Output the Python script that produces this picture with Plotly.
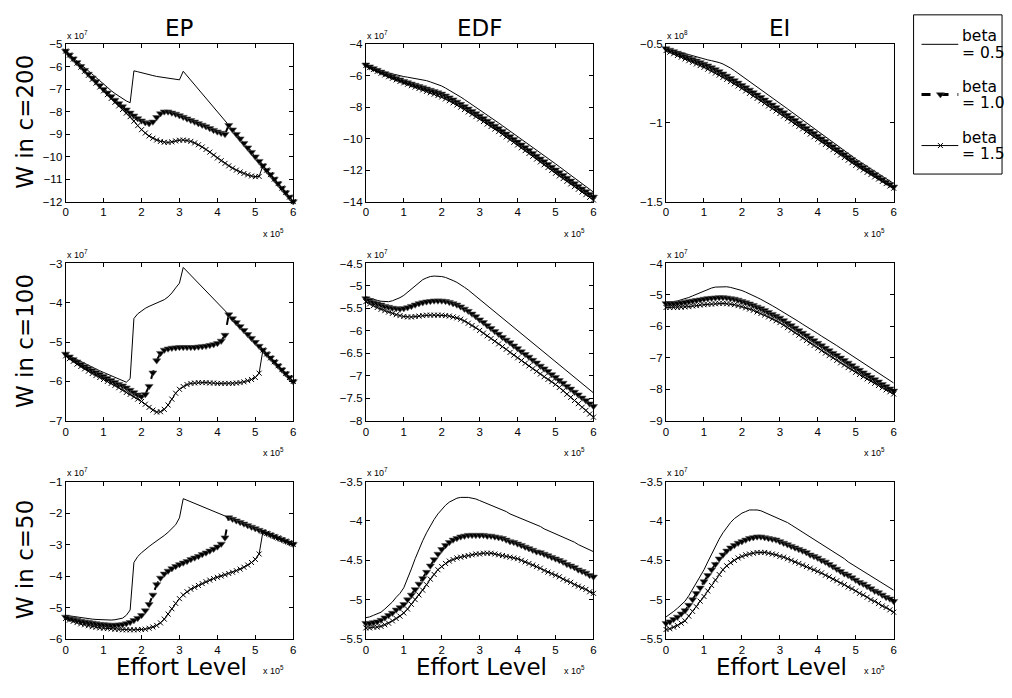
import plotly.graph_objects as go

# ---------------- data (x in units of 1e5, y in units of 1e7 / 1e8) ----------------
EFFORT = [0.0, 0.1, 0.2, 0.3, 0.4, 0.5, 0.6, 0.7, 0.8, 0.9,
          1.0, 1.1, 1.2, 1.3, 1.4, 1.5, 1.6, 1.7, 1.8, 1.9,
          2.0, 2.1, 2.2, 2.3, 2.4, 2.5, 2.6, 2.7, 2.8, 2.9,
          3.0, 3.1, 3.2, 3.3, 3.4, 3.5, 3.6, 3.7, 3.8, 3.9,
          4.0, 4.1, 4.2, 4.3, 4.4, 4.5, 4.6, 4.7, 4.8, 4.9,
          5.0, 5.1, 5.2, 5.3, 5.4, 5.5, 5.6, 5.7, 5.8, 5.9,
          6.0]

BETA_LABELS = ["= 0.5", "= 1.0", "= 1.5"]
COLUMN_TITLES = ["EP", "EDF", "EI"]
ROW_TITLES = ["W in c=200", "W in c=100", "W in c=50"]
X_TICKS = [0, 1, 2, 3, 4, 5, 6]

# ---- c = 200 ----
EP_C200_B05 = [-5.30, -5.45, -5.60, -5.75, -5.90, -6.05, -6.20, -6.35, -6.50, -6.65,
               -6.80, -6.93, -7.06, -7.19, -7.31, -7.42, -7.52, -7.60, -6.18, -6.22,
               -6.27, -6.31, -6.35, -6.39, -6.43, -6.46, -6.49, -6.52, -6.55, -6.57,
               -6.58, -6.20, -6.40, -6.60, -6.80, -7.00, -7.20, -7.40, -7.60, -7.80,
               -8.00, -8.20, -8.40, -8.60, -8.80, -9.00, -9.20, -9.40, -9.60, -9.80,
               -10.00, -10.20, -10.40, -10.60, -10.80, -11.00, -11.20, -11.40, -11.60, -11.80,
               -12.00]
EP_C200_B10 = [-5.30, -5.47, -5.64, -5.81, -5.98, -6.15, -6.32, -6.49, -6.66, -6.83,
               -7.00, -7.16, -7.32, -7.48, -7.63, -7.77, -7.91, -8.05, -8.18, -8.30,
               -8.40, -8.48, -8.52, -8.45, -8.25, -8.08, -8.00, -8.00, -8.05, -8.10,
               -8.17, -8.24, -8.31, -8.38, -8.45, -8.52, -8.59, -8.66, -8.74, -8.82,
               -8.89, -8.95, -9.00, -8.60, -8.80, -9.00, -9.20, -9.40, -9.60, -9.80,
               -10.00, -10.20, -10.40, -10.60, -10.80, -11.00, -11.20, -11.40, -11.60, -11.80,
               -12.00]
EP_C200_B15 = [-5.30, -5.48, -5.66, -5.84, -6.02, -6.20, -6.38, -6.56, -6.73, -6.90,
               -7.07, -7.24, -7.41, -7.58, -7.74, -7.90, -8.06, -8.22, -8.42, -8.62,
               -8.80, -8.95, -9.08, -9.18, -9.26, -9.32, -9.36, -9.37, -9.34, -9.30,
               -9.27, -9.26, -9.28, -9.32, -9.39, -9.47, -9.57, -9.68, -9.80, -9.93,
               -10.06, -10.18, -10.30, -10.41, -10.51, -10.60, -10.68, -10.75, -10.81, -10.86,
               -10.89, -10.88, -10.40, -10.60, -10.80, -11.00, -11.20, -11.40, -11.60, -11.80,
               -12.00]

EDF_C200_B05 = [-5.30, -5.40, -5.50, -5.59, -5.67, -5.75, -5.82, -5.89, -5.95, -6.00,
                -6.05, -6.09, -6.13, -6.17, -6.21, -6.25, -6.31, -6.39, -6.47, -6.56,
                -6.65, -6.78, -6.91, -7.05, -7.20, -7.35, -7.51, -7.67, -7.83, -7.99,
                -8.15, -8.32, -8.49, -8.66, -8.83, -9.00, -9.17, -9.34, -9.51, -9.68,
                -9.85, -10.02, -10.19, -10.36, -10.53, -10.70, -10.88, -11.06, -11.24, -11.42,
                -11.60, -11.78, -11.96, -12.14, -12.32, -12.50, -12.68, -12.86, -13.04, -13.22,
                -13.40]
EDF_C200_B10 = [-5.30, -5.42, -5.53, -5.64, -5.75, -5.85, -5.95, -6.05, -6.15, -6.25,
                -6.35, -6.43, -6.51, -6.59, -6.67, -6.75, -6.83, -6.91, -6.99, -7.07,
                -7.15, -7.27, -7.39, -7.52, -7.66, -7.80, -7.95, -8.10, -8.25, -8.40,
                -8.55, -8.71, -8.87, -9.03, -9.19, -9.35, -9.52, -9.69, -9.86, -10.03,
                -10.20, -10.38, -10.56, -10.74, -10.92, -11.10, -11.28, -11.45, -11.63, -11.80,
                -11.98, -12.15, -12.33, -12.50, -12.68, -12.85, -13.02, -13.19, -13.36, -13.53,
                -13.70]
EDF_C200_B15 = [-5.35, -5.48, -5.60, -5.72, -5.84, -5.95, -6.06, -6.16, -6.26, -6.36,
                -6.45, -6.54, -6.63, -6.72, -6.81, -6.90, -6.99, -7.08, -7.17, -7.26,
                -7.35, -7.47, -7.59, -7.72, -7.86, -8.00, -8.15, -8.30, -8.45, -8.60,
                -8.75, -8.91, -9.07, -9.23, -9.39, -9.55, -9.72, -9.89, -10.06, -10.23,
                -10.40, -10.58, -10.76, -10.94, -11.12, -11.30, -11.48, -11.66, -11.84, -12.02,
                -12.20, -12.37, -12.54, -12.71, -12.88, -13.05, -13.22, -13.39, -13.56, -13.73,
                -13.90]

EI_C200_B05 = [-0.525, -0.532, -0.539, -0.546, -0.553, -0.560, -0.567, -0.574, -0.581, -0.588,
               -0.594, -0.599, -0.604, -0.609, -0.616, -0.625, -0.637, -0.651, -0.667, -0.684,
               -0.701, -0.718, -0.735, -0.752, -0.769, -0.786, -0.803, -0.820, -0.838, -0.856,
               -0.874, -0.892, -0.910, -0.928, -0.946, -0.963, -0.981, -0.999, -1.017, -1.035,
               -1.052, -1.070, -1.088, -1.106, -1.124, -1.141, -1.159, -1.177, -1.194, -1.212,
               -1.229, -1.245, -1.261, -1.277, -1.293, -1.308, -1.324, -1.339, -1.355, -1.370,
               -1.385]
EI_C200_B10 = [-0.527, -0.536, -0.545, -0.555, -0.565, -0.575, -0.585, -0.595, -0.605, -0.615,
               -0.625, -0.636, -0.648, -0.660, -0.673, -0.687, -0.701, -0.716, -0.730, -0.745,
               -0.760, -0.775, -0.790, -0.806, -0.821, -0.837, -0.853, -0.869, -0.885, -0.901,
               -0.917, -0.934, -0.950, -0.967, -0.983, -1.000, -1.017, -1.033, -1.050, -1.066,
               -1.083, -1.100, -1.116, -1.133, -1.150, -1.167, -1.183, -1.200, -1.217, -1.233,
               -1.250, -1.266, -1.281, -1.297, -1.312, -1.328, -1.344, -1.359, -1.375, -1.390,
               -1.406]
EI_C200_B15 = [-0.540, -0.550, -0.560, -0.571, -0.582, -0.593, -0.604, -0.614, -0.625, -0.635,
               -0.646, -0.658, -0.670, -0.683, -0.696, -0.710, -0.723, -0.737, -0.751, -0.765,
               -0.780, -0.796, -0.812, -0.828, -0.844, -0.860, -0.876, -0.892, -0.908, -0.924,
               -0.940, -0.956, -0.973, -0.989, -1.006, -1.022, -1.038, -1.055, -1.071, -1.088,
               -1.104, -1.121, -1.137, -1.154, -1.170, -1.187, -1.204, -1.220, -1.237, -1.253,
               -1.270, -1.285, -1.299, -1.314, -1.328, -1.343, -1.357, -1.372, -1.386, -1.401,
               -1.415]

# ---- c = 100 ----
EP_C100_B05 = [-5.30, -5.35, -5.40, -5.45, -5.50, -5.55, -5.60, -5.65, -5.69, -5.73,
               -5.77, -5.81, -5.85, -5.90, -5.95, -5.99, -6.02, -5.93, -4.40, -4.28,
               -4.20, -4.14, -4.09, -4.05, -4.01, -3.97, -3.92, -3.85, -3.75, -3.62,
               -3.50, -3.10, -3.20, -3.30, -3.40, -3.50, -3.60, -3.70, -3.80, -3.90,
               -4.00, -4.10, -4.20, -4.30, -4.40, -4.50, -4.60, -4.70, -4.80, -4.90,
               -5.00, -5.10, -5.20, -5.30, -5.40, -5.50, -5.60, -5.70, -5.80, -5.90,
               -6.00]
EP_C100_B10 = [-5.30, -5.37, -5.44, -5.50, -5.56, -5.62, -5.67, -5.72, -5.77, -5.82,
               -5.87, -5.92, -5.97, -6.02, -6.07, -6.11, -6.16, -6.22, -6.28, -6.34,
               -6.38, -6.33, -6.12, -5.78, -5.47, -5.28, -5.20, -5.17, -5.15, -5.14,
               -5.13, -5.13, -5.13, -5.13, -5.13, -5.12, -5.11, -5.10, -5.08, -5.06,
               -5.03, -4.97, -4.82, -4.30, -4.40, -4.50, -4.60, -4.70, -4.80, -4.90,
               -5.00, -5.10, -5.20, -5.30, -5.40, -5.50, -5.60, -5.70, -5.80, -5.90,
               -6.00]
EP_C100_B15 = [-5.35, -5.42, -5.49, -5.56, -5.62, -5.68, -5.74, -5.80, -5.85, -5.90,
               -5.95, -6.00, -6.05, -6.10, -6.16, -6.22, -6.28, -6.33, -6.39, -6.45,
               -6.51, -6.58, -6.66, -6.73, -6.78, -6.77, -6.71, -6.60, -6.45, -6.30,
               -6.20, -6.13, -6.08, -6.05, -6.04, -6.03, -6.03, -6.03, -6.04, -6.04,
               -6.05, -6.05, -6.05, -6.05, -6.05, -6.04, -6.03, -6.01, -5.98, -5.95,
               -5.90, -5.79, -5.20, -5.30, -5.40, -5.50, -5.60, -5.70, -5.80, -5.90,
               -6.00]

EDF_C100_B05 = [-5.24, -5.27, -5.30, -5.32, -5.34, -5.35, -5.35, -5.33, -5.30, -5.26,
                -5.21, -5.14, -5.07, -4.99, -4.92, -4.86, -4.82, -4.79, -4.78, -4.78,
                -4.79, -4.81, -4.84, -4.88, -4.92, -4.97, -5.03, -5.09, -5.16, -5.23,
                -5.30, -5.37, -5.44, -5.51, -5.58, -5.65, -5.72, -5.79, -5.86, -5.93,
                -6.00, -6.07, -6.14, -6.21, -6.28, -6.35, -6.42, -6.49, -6.56, -6.63,
                -6.70, -6.77, -6.84, -6.90, -6.97, -7.04, -7.11, -7.18, -7.24, -7.31,
                -7.38]
EDF_C100_B10 = [-5.28, -5.32, -5.36, -5.39, -5.42, -5.45, -5.47, -5.49, -5.50, -5.51,
                -5.50, -5.48, -5.45, -5.42, -5.39, -5.37, -5.35, -5.34, -5.33, -5.33,
                -5.33, -5.34, -5.36, -5.39, -5.42, -5.46, -5.51, -5.56, -5.62, -5.68,
                -5.75, -5.81, -5.88, -5.94, -6.01, -6.07, -6.14, -6.20, -6.26, -6.33,
                -6.39, -6.46, -6.52, -6.58, -6.65, -6.71, -6.78, -6.84, -6.90, -6.97,
                -7.03, -7.10, -7.16, -7.23, -7.29, -7.36, -7.42, -7.49, -7.55, -7.62,
                -7.68]
EDF_C100_B15 = [-5.35, -5.40, -5.44, -5.48, -5.52, -5.55, -5.58, -5.61, -5.64, -5.66,
                -5.68, -5.69, -5.69, -5.68, -5.67, -5.66, -5.65, -5.65, -5.65, -5.65,
                -5.65, -5.66, -5.67, -5.69, -5.71, -5.74, -5.78, -5.83, -5.88, -5.93,
                -5.99, -6.05, -6.11, -6.17, -6.23, -6.29, -6.35, -6.41, -6.48, -6.54,
                -6.60, -6.66, -6.72, -6.78, -6.84, -6.90, -6.96, -7.02, -7.08, -7.13,
                -7.19, -7.26, -7.33, -7.41, -7.48, -7.55, -7.62, -7.70, -7.77, -7.85,
                -7.92]

EI_C100_B05 = [-5.22, -5.22, -5.21, -5.19, -5.16, -5.13, -5.08, -5.03, -4.98, -4.92,
               -4.87, -4.82, -4.78, -4.75, -4.74, -4.73, -4.74, -4.76, -4.79, -4.82,
               -4.86, -4.91, -4.96, -5.02, -5.08, -5.14, -5.20, -5.27, -5.34, -5.41,
               -5.48, -5.55, -5.63, -5.70, -5.78, -5.85, -5.93, -6.00, -6.08, -6.15,
               -6.23, -6.31, -6.38, -6.46, -6.54, -6.61, -6.69, -6.77, -6.84, -6.92,
               -7.00, -7.08, -7.16, -7.24, -7.32, -7.40, -7.48, -7.56, -7.64, -7.72,
               -7.80]
EI_C100_B10 = [-5.27, -5.27, -5.27, -5.26, -5.25, -5.23, -5.21, -5.19, -5.17, -5.15,
               -5.13, -5.11, -5.10, -5.09, -5.08, -5.08, -5.09, -5.11, -5.13, -5.16,
               -5.20, -5.24, -5.28, -5.33, -5.38, -5.43, -5.49, -5.55, -5.61, -5.67,
               -5.73, -5.81, -5.89, -5.97, -6.05, -6.13, -6.21, -6.29, -6.37, -6.45,
               -6.53, -6.61, -6.69, -6.77, -6.85, -6.92, -7.00, -7.08, -7.16, -7.24,
               -7.32, -7.39, -7.47, -7.54, -7.62, -7.69, -7.76, -7.84, -7.91, -7.98,
               -8.05]
EI_C100_B15 = [-5.40, -5.40, -5.40, -5.40, -5.39, -5.38, -5.37, -5.35, -5.34, -5.32,
               -5.31, -5.30, -5.29, -5.28, -5.27, -5.27, -5.28, -5.29, -5.31, -5.34,
               -5.37, -5.41, -5.45, -5.49, -5.54, -5.59, -5.64, -5.70, -5.76, -5.82,
               -5.88, -5.96, -6.04, -6.12, -6.20, -6.28, -6.37, -6.45, -6.53, -6.61,
               -6.69, -6.77, -6.85, -6.93, -7.00, -7.08, -7.16, -7.23, -7.31, -7.38,
               -7.46, -7.53, -7.60, -7.67, -7.74, -7.81, -7.88, -7.95, -8.02, -8.08,
               -8.15]

# ---- c = 50 ----
EP_C50_B05 = [-5.25, -5.27, -5.29, -5.31, -5.33, -5.34, -5.36, -5.37, -5.38, -5.39,
              -5.40, -5.40, -5.40, -5.39, -5.37, -5.34, -5.25, -5.08, -3.57, -3.38,
              -3.26, -3.15, -3.06, -2.97, -2.89, -2.80, -2.71, -2.61, -2.50, -2.37,
              -2.15, -1.54, -1.59, -1.64, -1.69, -1.74, -1.79, -1.84, -1.89, -1.94,
              -1.99, -2.04, -2.09, -2.14, -2.19, -2.24, -2.29, -2.34, -2.39, -2.44,
              -2.49, -2.54, -2.59, -2.64, -2.69, -2.74, -2.79, -2.84, -2.89, -2.94,
              -2.99]
EP_C50_B10 = [-5.30, -5.34, -5.37, -5.40, -5.43, -5.45, -5.47, -5.49, -5.51, -5.53,
              -5.54, -5.55, -5.56, -5.56, -5.55, -5.54, -5.51, -5.47, -5.41, -5.34,
              -5.25, -5.10, -4.90, -4.60, -4.27, -4.06, -3.93, -3.84, -3.76, -3.69,
              -3.63, -3.58, -3.53, -3.47, -3.42, -3.37, -3.31, -3.26, -3.20, -3.14,
              -3.07, -2.98, -2.78, -2.14, -2.19, -2.24, -2.29, -2.34, -2.39, -2.44,
              -2.49, -2.54, -2.59, -2.64, -2.69, -2.74, -2.79, -2.84, -2.89, -2.94,
              -2.99]
EP_C50_B15 = [-5.35, -5.40, -5.44, -5.48, -5.52, -5.55, -5.58, -5.61, -5.63, -5.65,
              -5.66, -5.67, -5.68, -5.69, -5.70, -5.71, -5.71, -5.71, -5.71, -5.71,
              -5.70, -5.69, -5.66, -5.62, -5.57, -5.49, -5.37, -5.21, -5.04, -4.87,
              -4.72, -4.60, -4.50, -4.42, -4.36, -4.30, -4.24, -4.18, -4.13, -4.08,
              -4.04, -4.00, -3.96, -3.92, -3.88, -3.83, -3.78, -3.72, -3.65, -3.57,
              -3.47, -3.30, -2.59, -2.64, -2.69, -2.74, -2.79, -2.84, -2.89, -2.94,
              -2.99]

EDF_C50_B05 = [-5.23, -5.22, -5.20, -5.18, -5.16, -5.12, -5.08, -5.03, -4.97, -4.92,
               -4.85, -4.74, -4.61, -4.48, -4.36, -4.25, -4.15, -4.06, -3.98, -3.91,
               -3.85, -3.80, -3.76, -3.73, -3.71, -3.70, -3.70, -3.70, -3.71, -3.72,
               -3.74, -3.76, -3.78, -3.80, -3.82, -3.84, -3.86, -3.88, -3.91, -3.93,
               -3.95, -3.97, -3.99, -4.01, -4.03, -4.05, -4.07, -4.10, -4.12, -4.14,
               -4.16, -4.18, -4.20, -4.23, -4.25, -4.27, -4.30, -4.32, -4.34, -4.37,
               -4.39]
EDF_C50_B10 = [-5.30, -5.30, -5.29, -5.28, -5.26, -5.23, -5.20, -5.17, -5.13, -5.10,
               -5.06, -5.00, -4.94, -4.87, -4.80, -4.73, -4.65, -4.57, -4.49, -4.42,
               -4.36, -4.31, -4.27, -4.24, -4.22, -4.20, -4.19, -4.18, -4.18, -4.18,
               -4.18, -4.18, -4.19, -4.19, -4.20, -4.21, -4.22, -4.24, -4.26, -4.27,
               -4.29, -4.31, -4.33, -4.35, -4.37, -4.39, -4.40, -4.42, -4.44, -4.46,
               -4.48, -4.50, -4.52, -4.55, -4.57, -4.59, -4.62, -4.64, -4.66, -4.69,
               -4.71]
EDF_C50_B15 = [-5.36, -5.36, -5.35, -5.35, -5.34, -5.32, -5.30, -5.27, -5.24, -5.21,
               -5.17, -5.12, -5.06, -5.00, -4.94, -4.88, -4.81, -4.74, -4.68, -4.62,
               -4.58, -4.54, -4.51, -4.49, -4.47, -4.46, -4.45, -4.44, -4.43, -4.42,
               -4.42, -4.41, -4.41, -4.41, -4.42, -4.43, -4.44, -4.45, -4.46, -4.47,
               -4.48, -4.50, -4.52, -4.54, -4.56, -4.58, -4.60, -4.63, -4.65, -4.67,
               -4.69, -4.71, -4.74, -4.76, -4.78, -4.81, -4.83, -4.85, -4.87, -4.90,
               -4.92]

EI_C50_B05 = [-5.22, -5.19, -5.15, -5.11, -5.07, -5.02, -4.95, -4.87, -4.79, -4.71,
              -4.62, -4.52, -4.42, -4.32, -4.23, -4.15, -4.08, -4.02, -3.97, -3.93,
              -3.90, -3.88, -3.86, -3.86, -3.86, -3.87, -3.89, -3.91, -3.93, -3.95,
              -3.97, -4.00, -4.02, -4.05, -4.08, -4.11, -4.14, -4.17, -4.20, -4.23,
              -4.26, -4.29, -4.32, -4.36, -4.39, -4.42, -4.45, -4.48, -4.52, -4.55,
              -4.58, -4.61, -4.64, -4.67, -4.70, -4.73, -4.76, -4.79, -4.82, -4.85,
              -4.88]
EI_C50_B10 = [-5.30, -5.28, -5.25, -5.22, -5.18, -5.14, -5.07, -5.00, -4.92, -4.85,
              -4.77, -4.69, -4.62, -4.55, -4.48, -4.43, -4.38, -4.34, -4.31, -4.28,
              -4.26, -4.24, -4.22, -4.21, -4.20, -4.20, -4.21, -4.22, -4.23, -4.24,
              -4.26, -4.28, -4.30, -4.32, -4.34, -4.36, -4.38, -4.40, -4.43, -4.45,
              -4.47, -4.50, -4.52, -4.55, -4.58, -4.61, -4.64, -4.67, -4.69, -4.72,
              -4.75, -4.78, -4.80, -4.83, -4.86, -4.89, -4.91, -4.94, -4.97, -4.99,
              -5.02]
EI_C50_B15 = [-5.38, -5.37, -5.35, -5.33, -5.30, -5.27, -5.21, -5.15, -5.09, -5.02,
              -4.96, -4.89, -4.82, -4.75, -4.68, -4.62, -4.57, -4.53, -4.50, -4.47,
              -4.45, -4.43, -4.42, -4.41, -4.40, -4.40, -4.40, -4.41, -4.42, -4.43,
              -4.45, -4.46, -4.48, -4.50, -4.52, -4.54, -4.56, -4.58, -4.60, -4.62,
              -4.64, -4.66, -4.69, -4.71, -4.74, -4.76, -4.79, -4.81, -4.84, -4.86,
              -4.89, -4.92, -4.94, -4.97, -5.00, -5.02, -5.05, -5.08, -5.10, -5.13,
              -5.16]

# panel definitions: (row, col, series, y-range, y-step, y exponent)
PANELS = [
    (0, 0, (EP_C200_B05, EP_C200_B10, EP_C200_B15), [-12, -5], 1, "7"),
    (0, 1, (EDF_C200_B05, EDF_C200_B10, EDF_C200_B15), [-14, -4], 2, "7"),
    (0, 2, (EI_C200_B05, EI_C200_B10, EI_C200_B15), [-1.5, -0.5], 0.5, "8"),
    (1, 0, (EP_C100_B05, EP_C100_B10, EP_C100_B15), [-7, -3], 1, "7"),
    (1, 1, (EDF_C100_B05, EDF_C100_B10, EDF_C100_B15), [-8, -4.5], 0.5, "7"),
    (1, 2, (EI_C100_B05, EI_C100_B10, EI_C100_B15), [-9, -4], 1, "7"),
    (2, 0, (EP_C50_B05, EP_C50_B10, EP_C50_B15), [-6, -1], 1, "7"),
    (2, 1, (EDF_C50_B05, EDF_C50_B10, EDF_C50_B15), [-5.5, -3.5], 0.5, "7"),
    (2, 2, (EI_C50_B05, EI_C50_B10, EI_C50_B15), [-5.5, -3.5], 0.5, "7"),
]

# ---------------- layout geometry (pixels) ----------------
W, H = 1012, 698
COL_X = [(63, 292), (365, 594), (667, 896)]
ROW_Y = [(39, 199), (262, 422), (484, 644)]


def px(x):
    return x / W


def py(y):
    return 1 - y / H


TICK_FONT = dict(family="Liberation Sans, Arial, sans-serif", size=11.5, color="black")
BIG_FONT = dict(family="DejaVu Sans, sans-serif", size=23, color="black")
EXP_FONT = dict(family="Liberation Sans, Arial, sans-serif", size=9, color="black")

STYLE_B05 = dict(mode="lines", line=dict(color="black", width=1))
STYLE_B10 = dict(mode="lines+markers", line=dict(color="black", width=2, dash="dash"),
                 marker=dict(symbol="triangle-down", size=7, color="black",
                             line=dict(width=0.6, color="#555555")))
STYLE_B15 = dict(mode="lines+markers", line=dict(color="black", width=1),
                 marker=dict(symbol="x-thin", size=5, color="black",
                             line=dict(width=1, color="black")))
STYLES = [STYLE_B05, STYLE_B10, STYLE_B15]

fig = go.Figure()
layout = dict(width=W, height=H, margin=dict(l=0, r=0, t=0, b=0), autosize=False,
              paper_bgcolor="white", plot_bgcolor="white", showlegend=False)
annotations = []
shapes = []

for k, (r, c, series, yr, ystep, yexp) in enumerate(PANELS, start=1):
    sx = "" if k == 1 else str(k)
    x0, x1 = COL_X[c]
    y0, y1 = ROW_Y[r]
    common = dict(showline=True, linecolor="black", linewidth=1, mirror="ticks",
                  ticks="inside", ticklen=4, tickwidth=1, tickcolor="black",
                  showgrid=False, zeroline=False, tickfont=TICK_FONT, fixedrange=True)
    layout["xaxis" + sx] = dict(domain=[px(x0), px(x1)], anchor="y" + sx,
                                range=[0, 6], tickmode="array", tickvals=X_TICKS,
                                ticktext=[str(v) for v in X_TICKS], **common)
    layout["yaxis" + sx] = dict(domain=[py(y1), py(y0)], anchor="x" + sx,
                                range=yr, tick0=0, dtick=ystep, **common)
    for s, style in zip(series, STYLES):
        fig.add_trace(go.Scatter(x=EFFORT, y=s, xaxis="x" + sx, yaxis="y" + sx,
                                 cliponaxis=False, hoverinfo="skip", **style))
    # exponent labels
    annotations.append(dict(xref="paper", yref="paper", x=px(x0 - 1), y=py(y0 - 10),
                            text="x 10<sup>%s</sup>" % yexp, showarrow=False,
                            xanchor="left", yanchor="middle", font=EXP_FONT))
    annotations.append(dict(xref="paper", yref="paper", x=px(x1 - 7), y=py(y1 + 32),
                            text="x 10<sup>5</sup>", showarrow=False,
                            xanchor="right", yanchor="middle", font=EXP_FONT))

# column titles, row titles, x titles
for c, t in enumerate(COLUMN_TITLES):
    x0, x1 = COL_X[c]
    annotations.append(dict(xref="paper", yref="paper", x=px((x0 + x1) / 2), y=py(22),
                            text=t, showarrow=False, xanchor="center", yanchor="middle",
                            font=BIG_FONT))
    annotations.append(dict(xref="paper", yref="paper", x=px((x0 + x1) / 2 + 2), y=py(673),
                            text="Effort Level", showarrow=False, xanchor="center",
                            yanchor="middle", font=BIG_FONT))
for r, t in enumerate(ROW_TITLES):
    y0, y1 = ROW_Y[r]
    annotations.append(dict(xref="paper", yref="paper", x=px(22), y=py((y0 + y1) / 2 - 1),
                            text=t, showarrow=False, textangle=-90, xanchor="center",
                            yanchor="middle", font=BIG_FONT))

# ---------------- legend (drawn on a hidden pixel-coordinate axis) ----------------
LX0, LX1, LY0, LY1 = 916, 1005, 9, 171
layout["xaxis10"] = dict(domain=[px(LX0), px(LX1)], range=[LX0, LX1], visible=False,
                         anchor="y10", fixedrange=True)
layout["yaxis10"] = dict(domain=[py(LY1), py(LY0)], range=[LY1, LY0], visible=False,
                         anchor="x10", fixedrange=True)
shapes.append(dict(type="rect", xref="paper", yref="paper", x0=px(LX0), x1=px(LX1),
                   y0=py(LY1), y1=py(LY0), line=dict(color="black", width=1),
                   fillcolor="white", layer="below"))
LEG_ROWS = [39, 90, 142]
LEG_FONT = dict(family="DejaVu Sans, sans-serif", size=15.5, color="black")
for i, (yy, style) in enumerate(zip(LEG_ROWS, STYLES)):
    line = dict(style["line"])
    if i == 1:
        line["width"] = 3
    fig.add_trace(go.Scatter(x=[924, 961], y=[yy, yy], xaxis="x10", yaxis="y10",
                             mode="lines", line=line, hoverinfo="skip", cliponaxis=False))
    if "marker" in style:
        fig.add_trace(go.Scatter(x=[943], y=[yy], xaxis="x10", yaxis="y10",
                                 mode="markers", marker=style["marker"], hoverinfo="skip",
                                 cliponaxis=False))
    annotations.append(dict(xref="paper", yref="paper", x=px(963), y=py(yy - 8),
                            text="beta", showarrow=False, xanchor="left",
                            yanchor="middle", font=LEG_FONT))
    annotations.append(dict(xref="paper", yref="paper", x=px(963), y=py(yy + 9),
                            text=BETA_LABELS[i], showarrow=False, xanchor="left",
                            yanchor="middle", font=LEG_FONT))

layout["annotations"] = annotations
layout["shapes"] = shapes
fig.update_layout(**layout)
fig.write_html("out.html",
               config={"displayModeBar": False, "staticPlot": True},
               post_script="document.body.style.margin='0px';"
                           "document.body.style.overflow='hidden';")
